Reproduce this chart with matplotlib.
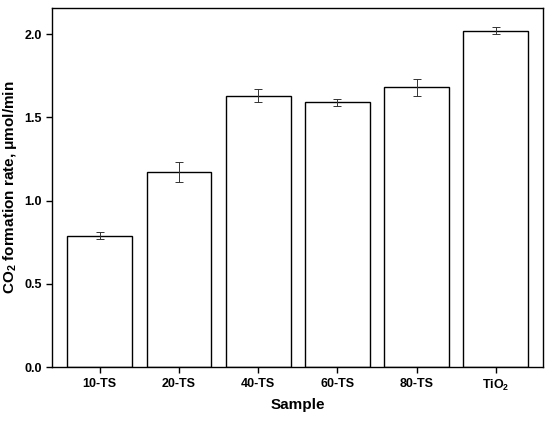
import matplotlib
matplotlib.use("Agg")
import matplotlib.pyplot as plt

samples = ["10-TS", "20-TS", "40-TS", "60-TS", "80-TS", "TiO$_\\mathbf{2}$"]
rates = [0.79, 1.17, 1.63, 1.59, 1.68, 2.02]
errors = [0.02, 0.06, 0.04, 0.02, 0.05, 0.02]

plt.rcParams['font.family'] = ['Liberation Sans', 'DejaVu Sans']
plt.rcParams['mathtext.fontset'] = 'custom'
plt.rcParams['mathtext.bf'] = 'Liberation Sans:bold'
plt.rcParams['mathtext.rm'] = 'Liberation Sans:bold'

fig = plt.figure(figsize=(5.5, 4.22), dpi=100)
ax = fig.add_axes([0.095, 0.13, 0.893, 0.851])
x = range(len(samples))
ax.bar(x, rates, width=0.82, color='white', edgecolor='black', linewidth=1.0,
       yerr=errors, capsize=3, error_kw=dict(elinewidth=0.7, capthick=0.7, ecolor='#333333'))
ax.set_xlim(-0.6, 5.6)
ax.set_ylim(0, 2.156)
ax.set_yticks([0.0, 0.5, 1.0, 1.5, 2.0])
ax.set_yticklabels(["0.0", "0.5", "1.0", "1.5", "2.0"])
ax.set_xticks(list(x))
ax.set_xticklabels(samples)
for lab in ax.get_xticklabels() + ax.get_yticklabels():
    lab.set_fontweight('bold')
    lab.set_fontsize(9)
ax.tick_params(direction='out', length=4, width=1)
ax.set_xlabel("Sample", fontsize=11, fontweight='bold')
ax.set_ylabel("CO$_\\mathbf{2}$ formation rate, μmol/min", fontsize=11, fontweight='bold')
for s in ax.spines.values():
    s.set_linewidth(1.0)
fig.savefig("out.png", dpi=100)
